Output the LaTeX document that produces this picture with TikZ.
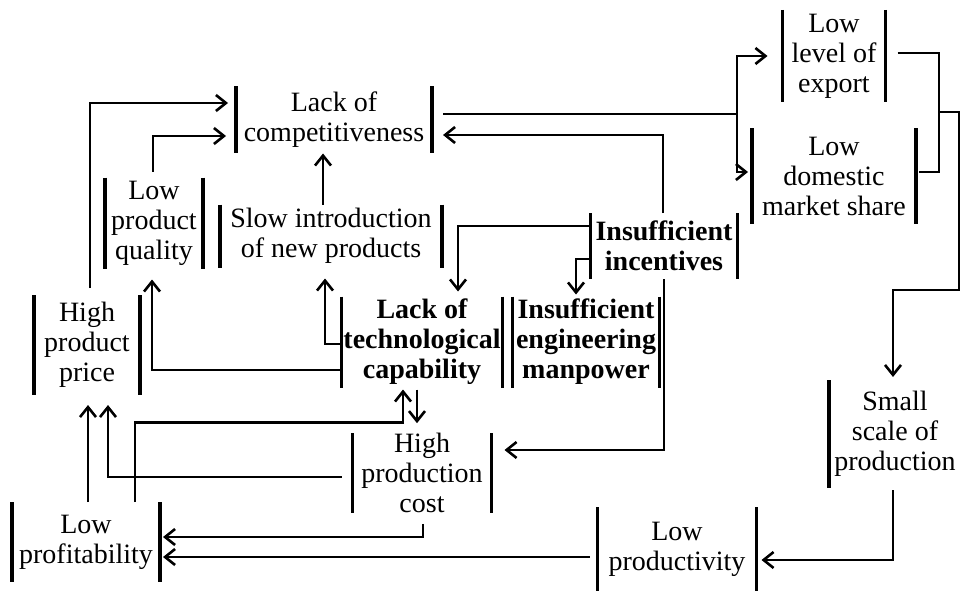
\documentclass[tikz,border=0pt]{standalone}
\usepackage{fontspec}
\setmainfont{Liberation Serif}
\usetikzlibrary{arrows.meta,calc}

\begin{document}
\begin{tikzpicture}[x=1pt,y=-1pt,
  every node/.style={inner sep=0pt,outer sep=0pt,align=center,
    font=\fontsize{28}{30}\selectfont},
  bar/.style={line width=3.4pt},
  bars/.style={append after command={
    (\tikzlastnode.north west) edge[bar] (\tikzlastnode.south west)
    (\tikzlastnode.north east) edge[bar] (\tikzlastnode.south east)}},
  leftbar/.style={append after command={
    (\tikzlastnode.north west) edge[bar] (\tikzlastnode.south west)}},
  cell/.style 2 args={bars, minimum width=#1, minimum height=#2},
  strong/.style={font=\fontsize{28}{30}\selectfont\bfseries},
  link/.style={line width=2.9pt, line join=miter},
  arr/.style={link, -{Straight Barb[length=10pt,width=16pt,line width=2.6pt]}}
]
\useasboundingbox[fill=white] (0,0) rectangle (961,591);

% causes and effects
\node[cell={196}{67}]  (comp)    at (334,120) {Lack of\\competitiveness};
\node[cell={98}{91}]   (quality) at (154,223) {Low\\product\\quality};
\node[cell={222}{63}]  (slow)    at (331,236) {Slow introduction\\of new products};
\node[cell={106}{100}] (price)   at (87,345)  {High\\product\\price};
\node[cell={161}{91},strong] (tech) at (422,342) {Lack of\\technological\\capability};
\node[cell={147}{91},strong] (manp) at (586,342) {Insufficient\\engineering\\manpower};
\node[cell={147}{66},strong] (incent) at (664,246) {Insufficient\\incentives};
\node[cell={139}{77}]  (cost)    at (422,473) {High\\production\\cost};
\node[cell={148}{80}]  (profit)  at (86,542)  {Low\\profitability};
\node[cell={159}{84}]  (prodv)   at (677,549) {Low\\productivity};
\node[leftbar, minimum width=132, minimum height=108] (scale) at (895,434)
  {Small\\scale of\\production};
\node[cell={103}{92}]  (export)  at (834,56)  {Low\\level of\\export};
\node[cell={164}{95}]  (dom)     at (834,176) {Low\\domestic\\market share};

% junction points
\coordinate (fork) at (737,114);
\coordinate (join) at (939,112);
\coordinate (edge) at (959,112);
\coordinate (turn) at (893,290);

% into lack of competitiveness
\draw[arr] ($(price.north)+(3,-7)$) |- ($(comp.west)+(-8,-17)$);
\draw[arr] ($(quality.north)+(-1,-6)$) |- ($(comp.west)+(-10,16)$);
\draw[arr] ($(slow.north)+(-8,0)$) -- ($(comp.south)+(-11,0)$);
\draw[arr] ($(incent.north)+(-1,0)$) |- ($(comp.east)+(11,15)$);

% competitiveness to export and market share
\draw[link] ($(comp.east)+(11,-6)$) -- (fork);
\draw[arr] (fork) |- ($(export.west)+(-15,0)$);
\draw[arr] (fork) |- ($(dom.west)+(-4,-4)$);

% export and market share to scale of production
\draw[link] ($(export.east)+(12,-3)$) -| (join);
\draw[link] ($(dom.east)+(3,-4)$) -| (join);
\draw[arr] (join) -- (edge) |- (turn) -- ($(scale.north)+(-2,-3)$);

% insufficient incentives
\draw[arr] (incent.south) |- ($(cost.east)+(13,-23)$);
\draw[arr] ($(incent.west)+(0,-20)$) -| ($(tech.north)+(36,-5)$);
\draw[arr] ($(incent.west)+(0,13)$) -| ($(manp.north)+(-10,-2)$);

% technological capability
\draw[arr] ($(tech.west)+(0,2)$) -| ($(slow.south)+(-6,11)$);
\draw[arr] ($(tech.west)+(0,28)$) -| ($(quality.south)+(-2,11)$);
\draw[arr] ($(tech.south)+(-5,2)$) -- ($(cost.north)+(-5,-10)$);

% profitability and cost
\draw[arr] ($(profit.north)+(49,0)$) |- ($(tech.south)+(-19,35)$)
  -- ($(tech.south)+(-19,2)$);
\draw[arr] ($(profit.north)+(2,0)$) -- ($(price.south)+(1,10)$);
\draw[arr] ($(cost.west)+(-11,4)$) -| ($(price.south)+(21,10)$);
\draw[arr] ($(cost.south)+(1,11)$) |- ($(profit.east)+(3,-5)$);
\draw[arr] ($(prodv.west)+(-8,8)$) -- ($(profit.east)+(3,15)$);
\draw[arr] ($(scale.south)+(-2,2)$) |- ($(prodv.east)+(5,11)$);
\end{tikzpicture}
\end{document}
